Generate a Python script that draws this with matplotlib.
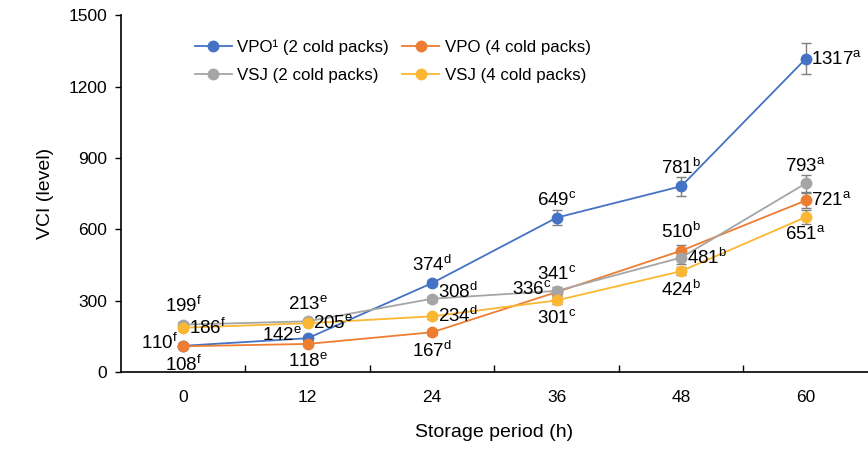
import numpy as np
import matplotlib
matplotlib.use("Agg")
import matplotlib.pyplot as plt

plt.rcParams['font.family'] = ['Liberation Sans', 'DejaVu Sans']
plt.rcParams['mathtext.fontset'] = 'custom'
plt.rcParams['mathtext.rm'] = 'Liberation Sans'
plt.rcParams['mathtext.it'] = 'Liberation Sans'

hours = ['0', '12', '24', '36', '48', '60']

vpo_2 = [110, 142, 374, 649, 781, 1317]
vpo_4 = [108, 118, 167, 336, 510, 721]
vsj_2 = [199, 213, 308, 341, 481, 793]
vsj_4 = [186, 205, 234, 301, 424, 651]

vpo_2_err = [8, 10, 12, 32, 40, 65]
vpo_4_err = [8, 8, 10, 15, 22, 30]
vsj_2_err = [10, 10, 12, 18, 25, 35]
vsj_4_err = [8, 8, 10, 15, 18, 30]

vpo_2_grp = ['f', 'e', 'd', 'c', 'b', 'a']
vpo_4_grp = ['f', 'e', 'd', 'c', 'b', 'a']
vsj_2_grp = ['f', 'e', 'd', 'c', 'b', 'a']
vsj_4_grp = ['f', 'e', 'd', 'c', 'b', 'a']

# where each value label sits relative to its marker
vpo_2_pos = ['left', 'left', 'above', 'above', 'above', 'right']
vpo_4_pos = ['below', 'below', 'below', 'left', 'above', 'right']
vsj_2_pos = ['above', 'above', 'upright', 'above', 'right', 'above']
vsj_4_pos = ['right', 'right', 'right', 'below', 'below', 'below']

series = [
    ('VPO\u00b9 (2 cold packs)', vpo_2, vpo_2_err, vpo_2_grp, vpo_2_pos, '#4472C4'),
    ('VPO (4 cold packs)', vpo_4, vpo_4_err, vpo_4_grp, vpo_4_pos, '#ED7D31'),
    ('VSJ (2 cold packs)', vsj_2, vsj_2_err, vsj_2_grp, vsj_2_pos, '#A5A5A5'),
    ('VSJ (4 cold packs)', vsj_4, vsj_4_err, vsj_4_grp, vsj_4_pos, '#FBB731'),
]

offsets = {
    'above': ((0, 6), 'center', 'bottom'),
    'below': ((0, -6), 'center', 'top'),
    'left': ((-4, 2), 'right', 'center'),
    'right': ((4, 0), 'left', 'center'),
    'upright': ((4, 5), 'left', 'center'),
}

fig = plt.figure(figsize=(8.68, 4.58), dpi=100)
ax = fig.add_axes([0.1394, 0.1878, 0.8606, 0.779])

x = np.arange(len(hours))
handles = []
for name, vals, err, grp, pos, col in series:
    ax.errorbar(x, vals, yerr=err, fmt='none', ecolor='#7F7F7F',
                elinewidth=1, capsize=3.5, capthick=1, zorder=2)
    h, = ax.plot(x, vals, '-o', color=col, lw=1.3, ms=7.5, label=name, zorder=3)
    handles.append(h)
    for xi, v, g, p in zip(x, vals, grp, pos):
        off, ha, va = offsets[p]
        ax.annotate(str(v) + r'$^{\mathrm{' + g + '}}$', (xi, v),
                    xytext=off, textcoords='offset points',
                    ha=ha, va=va, fontsize=13.5, zorder=4)

ax.set_xlim(-0.5, 5.5)
ax.set_ylim(0, 1500)
ax.set_yticks(np.arange(0, 1501, 300))
ax.set_xticks(x)
ax.set_xticklabels(hours)
ax.set_xticks(np.arange(0.5, 5.5, 1), minor=True)
ax.tick_params(axis='x', which='major', length=0, pad=13, labelsize=12.5)
ax.tick_params(axis='x', which='minor', direction='in', length=5, width=1)
ax.tick_params(axis='y', direction='out', length=4, width=1, labelsize=12.5, pad=6)

for s in ['top', 'right']:
    ax.spines[s].set_visible(False)
for s in ['left', 'bottom']:
    ax.spines[s].set_linewidth(1.2)

ax.set_ylabel('VCI (level)', fontsize=14, labelpad=10)
ax.set_xlabel('Storage period (h)', fontsize=14, labelpad=14)

# legend fills row by row: VPO pair on top, VSJ pair below
order = [0, 2, 1, 3]
ax.legend([handles[i] for i in order], [handles[i].get_label() for i in order],
          loc='upper left', bbox_to_anchor=(0.078, 0.975), ncol=2,
          frameon=False, fontsize=12.2, handlelength=2.2, columnspacing=0.8,
          handletextpad=0.3, labelspacing=0.75)

fig.savefig('out.png', dpi=100)
